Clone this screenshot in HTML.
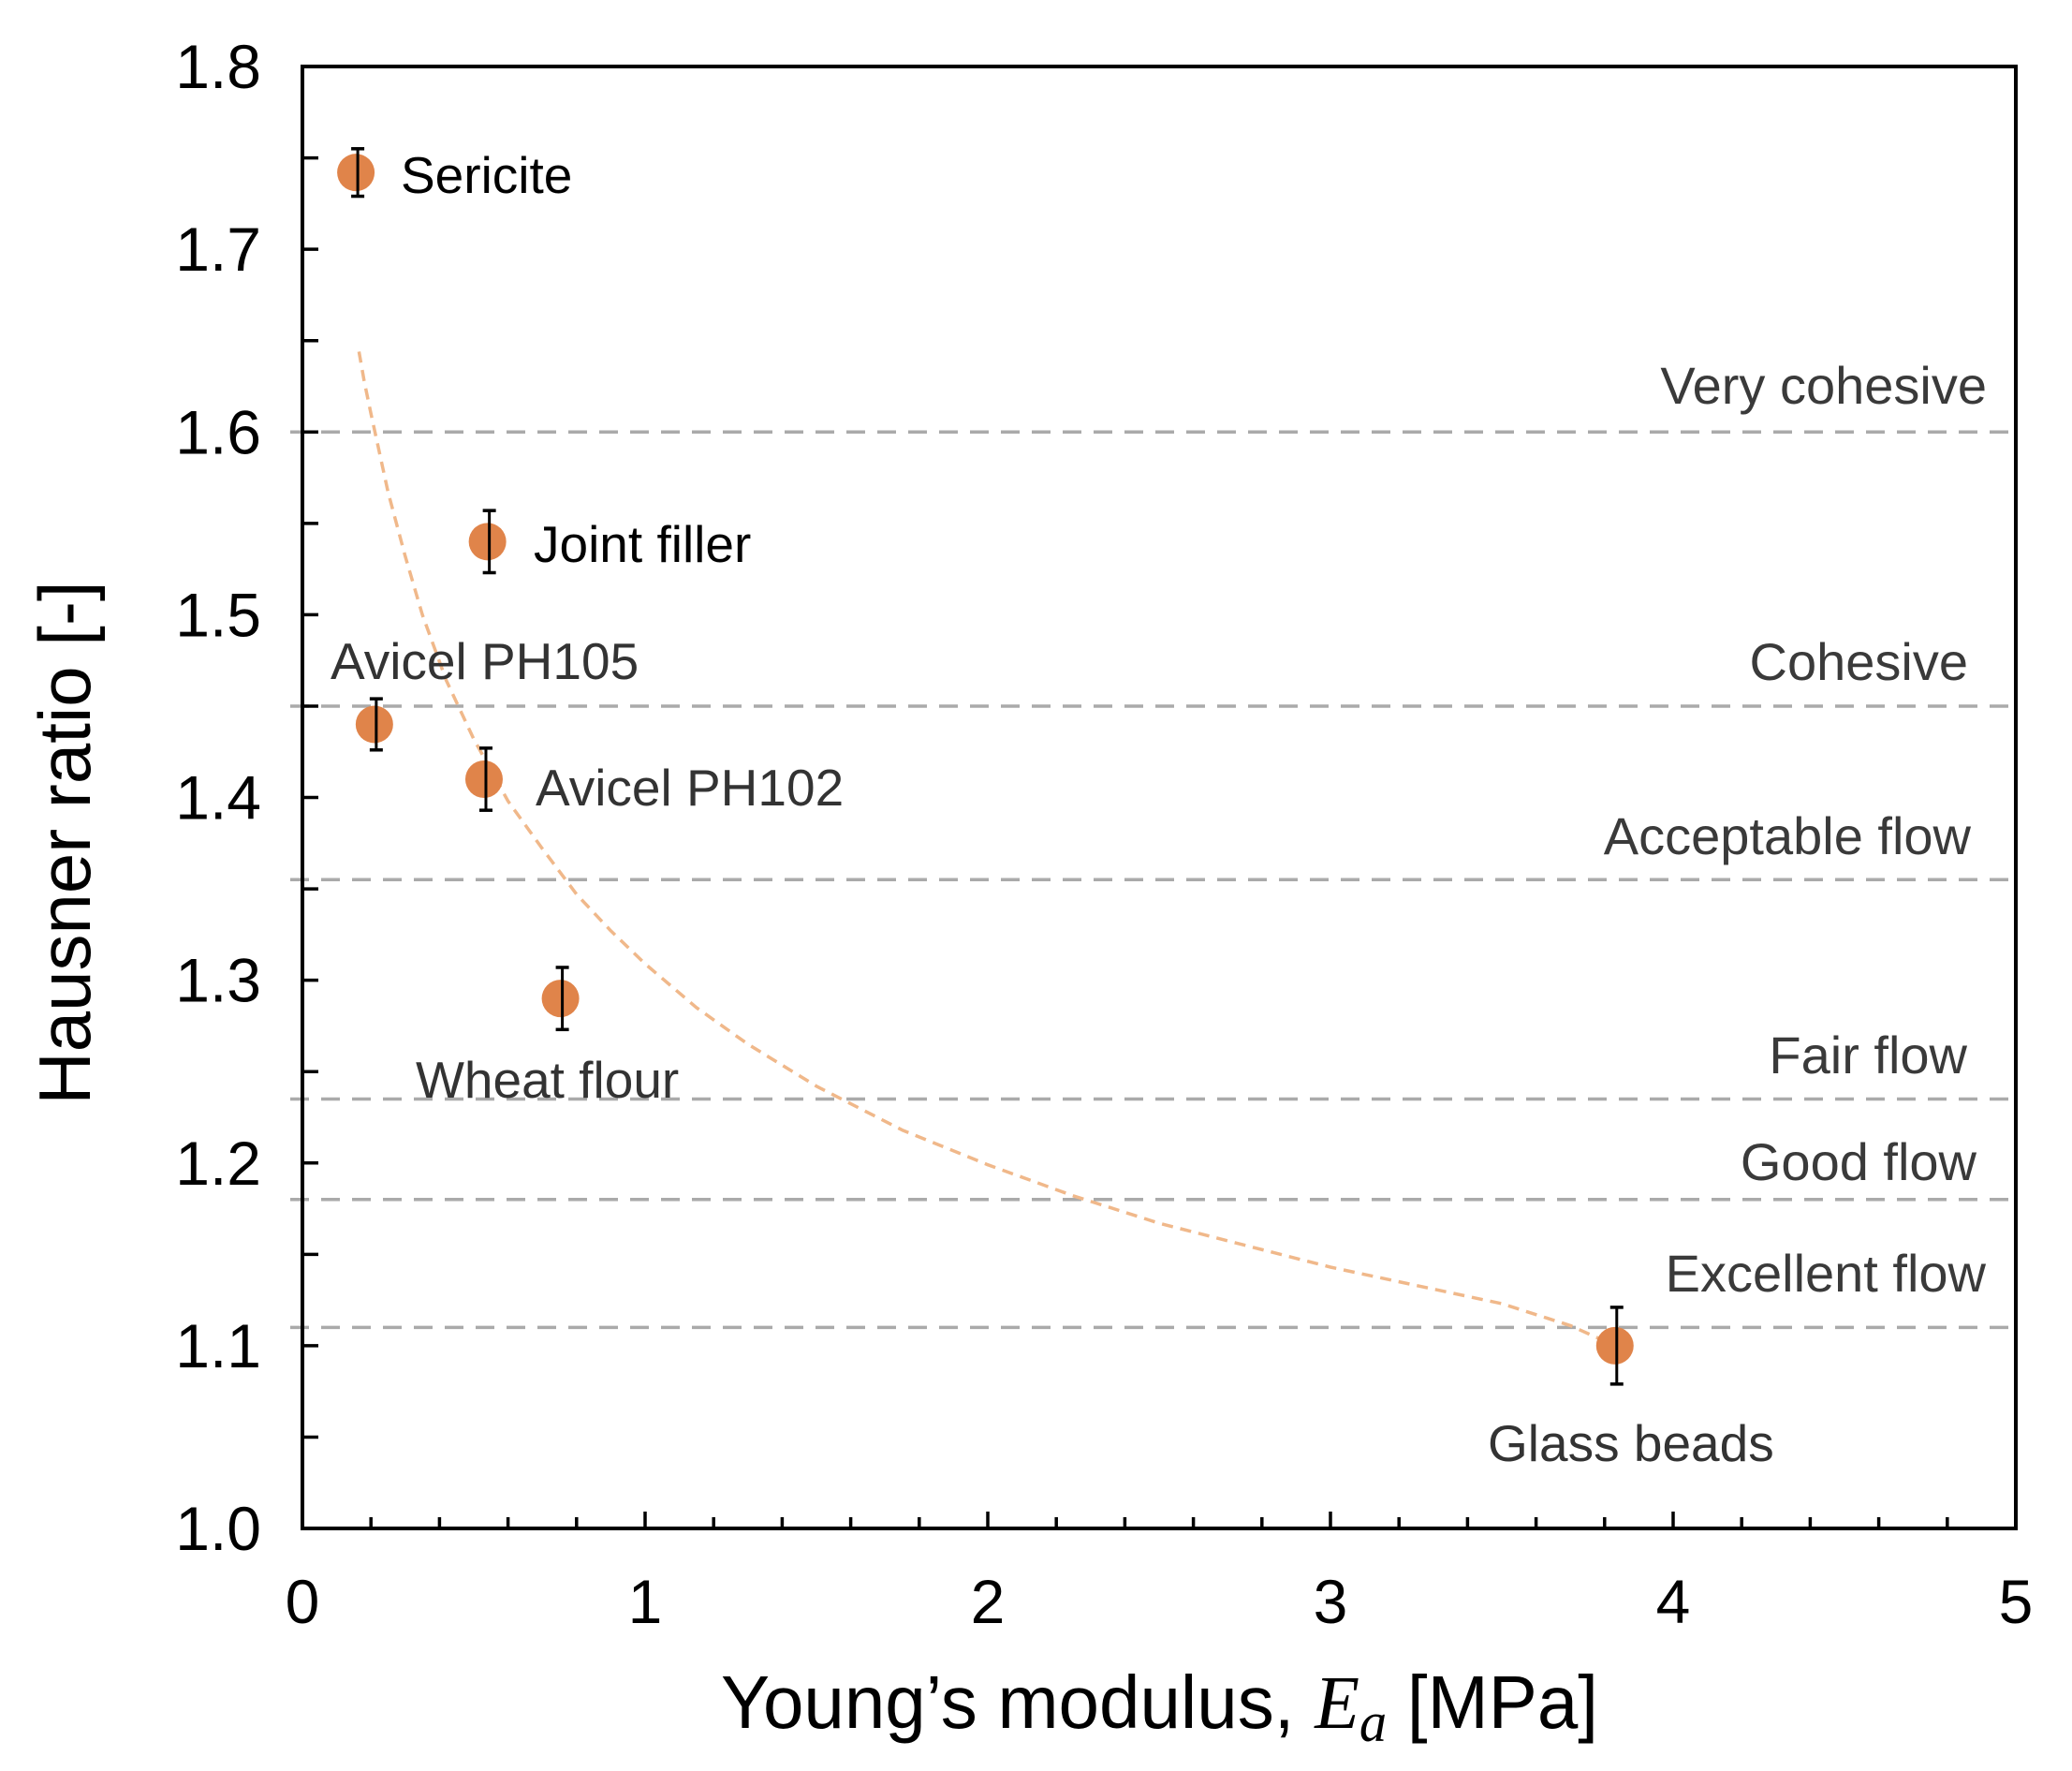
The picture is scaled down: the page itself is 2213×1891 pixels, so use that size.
<!DOCTYPE html>
<html><head><meta charset="utf-8"><style>
html,body{margin:0;padding:0;background:#fff;}
svg{display:block;font-family:"Liberation Sans",Arial,sans-serif;}
</style></head><body>
<svg id="chart" width="2213" height="1891" viewBox="0 0 2213 1891" xmlns="http://www.w3.org/2000/svg">
<rect width="2213" height="1891" fill="#fff"/>
<g id="grid"></g>
<g id="curve"></g>
<g id="axes"></g>
<g id="points"></g>
<g id="labels"></g>
<text x="770" y="1845" font-size="80" textLength="937" lengthAdjust="spacingAndGlyphs" fill="#000">Young’s modulus, <tspan font-family="Liberation Serif,serif" font-style="italic">E</tspan><tspan font-family="Liberation Serif,serif" font-style="italic" font-size="60" dy="14">a</tspan><tspan dy="-14"> [MPa]</tspan></text>
<text transform="translate(96,900) rotate(-90)" text-anchor="middle" font-size="78" fill="#000">Hausner ratio [-]</text>
</svg>
<script>
const names = ["Sericite","Joint filler","Avicel PH105","Avicel PH102","Wheat flour","Glass beads"];
const xVals = [0.156,0.54,0.21,0.53,0.753,3.83];
const yVals = [1.742,1.54,1.44,1.41,1.29,1.10];
const yErr = [0.013,0.017,0.014,0.017,0.017,0.021];
const curveX = [0.165,0.18,0.2,0.25,0.3,0.35,0.42,0.5,0.6,0.7,0.8,0.9,1.0,1.15,1.3,1.5,1.75,2.0,2.25,2.5,2.75,3.0,3.25,3.5,3.7,3.83];
const curveY = [1.644,1.628,1.61,1.567,1.532,1.50,1.464,1.432,1.398,1.372,1.347,1.327,1.309,1.285,1.265,1.242,1.218,1.199,1.182,1.167,1.155,1.143,1.133,1.123,1.111,1.10];
const catNames = ["Very cohesive","Cohesive","Acceptable flow","Fair flow","Good flow","Excellent flow"];
const catLines = [1.6,1.45,1.355,1.235,1.18,1.11];
const xTicks = ["0","1","2","3","4","5"];
const yTicks = ["1.0","1.1","1.2","1.3","1.4","1.5","1.6","1.7","1.8"];

const NS="http://www.w3.org/2000/svg";
const X0=323,X1=2153,Y0=1632,Y1=71;
const sx=v=>X0+(v-0)/5*(X1-X0);
const sy=v=>Y0-(v-1.0)/0.8*(Y0-Y1);
function mk(tag,attrs,parent){const e=document.createElementNS(NS,tag);for(const k in attrs)e.setAttribute(k,attrs[k]);parent.appendChild(e);return e;}
const grid=document.getElementById('grid'),curve=document.getElementById('curve'),axes=document.getElementById('axes'),pts=document.getElementById('points'),lab=document.getElementById('labels');

catLines.forEach((v,i)=>{
  const l=mk('line',{x1:310,x2:X1,y1:sy(v),y2:sy(v),stroke:'#aaa','stroke-width':3.5,'stroke-dasharray':'20 13'},grid);
  
  
});
const catLab=[[2122,431],[2102,726],[2105,912],[2101,1146],[2111,1260],[2121,1379]];
catNames.forEach((n,i)=>{
  const t=mk('text',{x:catLab[i][0],y:catLab[i][1],'text-anchor':'end','font-size':56,fill:'#3a3a3a'},lab);
  t.textContent=n;
  
  
});

let d='';curveX.forEach((x,i)=>{d+=(i?'L':'M')+sx(x).toFixed(1)+','+sy(curveY[i]).toFixed(1);});
const cp=mk('path',{d:d,fill:'none',stroke:'#f0b88a','stroke-width':3.5,'stroke-dasharray':'12 8','stroke-linejoin':'round'},curve);



const fr=mk('rect',{x:X0,y:Y1,width:X1-X0,height:Y0-Y1,fill:'none',stroke:'#000','stroke-width':4},axes);


for(let i=0;i<=25;i++){const v=i*0.2;const major=i%5===0;
  mk('line',{x1:sx(v),x2:sx(v),y1:Y0,y2:Y0-(major?18:12),stroke:'#000','stroke-width':3.5},axes);}
for(let i=0;i<=16;i++){const v=1+i*0.05;
  mk('line',{x1:X0,x2:X0+17,y1:sy(v),y2:sy(v),stroke:'#000','stroke-width':3.5},axes);}
xTicks.forEach((t,i)=>{const e=mk('text',{x:sx(+t),y:1733,'text-anchor':'middle','font-size':66,fill:'#000'},axes);e.textContent=t;
  
  });
yTicks.forEach(t=>{const e=mk('text',{x:279,y:sy(+t)+23,'text-anchor':'end','font-size':66,fill:'#000'},axes);e.textContent=t;
  
  });

const ptLab=[[428,206,'#000'],[570,600,'#000'],[353,725,'#333'],[572,860,'#333'],[444,1172,'#333'],[1589,1560,'#333']];
names.forEach((n,i)=>{
  const g=mk('g',{},pts);
  
  
  const cx=sx(xVals[i]),cy=sy(yVals[i]),e1=sy(yVals[i]+yErr[i]),e2=sy(yVals[i]-yErr[i]);
  mk('circle',{cx:cx,cy:cy,r:20,fill:'#e0844a'},g);
  mk('line',{x1:cx+2,x2:cx+2,y1:e1,y2:e2,stroke:'#000','stroke-width':3},g);
  mk('line',{x1:cx-5,x2:cx+9,y1:e1,y2:e1,stroke:'#000','stroke-width':3.5},g);
  mk('line',{x1:cx-5,x2:cx+9,y1:e2,y2:e2,stroke:'#000','stroke-width':3.5},g);
  const t=mk('text',{x:ptLab[i][0],y:ptLab[i][1],'font-size':55,fill:ptLab[i][2]},lab);
  t.textContent=n;
  
  
});
</script>
</body></html>
